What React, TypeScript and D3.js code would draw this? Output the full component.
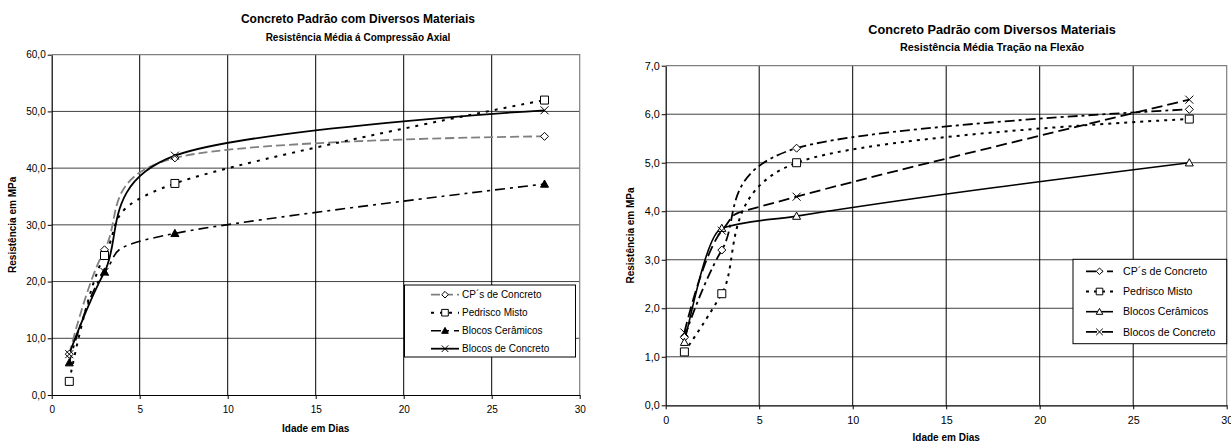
import React, { useEffect, useRef } from "react";
import * as d3 from "d3";

// idade (dias) dos ensaios
const days = [1, 3, 7, 28];
const seriesNames = ["CP´s de Concreto", "Pedrisco Misto", "Blocos Cerâmicos", "Blocos de Concreto"];

// compressão axial (MPa)
const compCP = [7.2, 25.6, 41.8, 45.6];
const compPedrisco = [2.4, 24.6, 37.3, 52.0];
const compCeramicos = [5.7, 21.7, 28.5, 37.2];
const compBlocos = [7.2, 21.7, 42.2, 50.2];

// tração na flexão (MPa)
const flexCP = [1.4, 3.2, 5.3, 6.1];
const flexPedrisco = [1.1, 2.3, 5.0, 5.9];
const flexCeramicos = [1.3, 3.65, 3.9, 5.0];
const flexBlocos = [1.5, 3.6, 4.3, 6.3];

const xTicks = [0, 5, 10, 15, 20, 25, 30];
const compTicks = [0, 10, 20, 30, 40, 50, 60];
const flexTicks = [0, 1, 2, 3, 4, 5, 6, 7];

const FONT = "'Liberation Sans', Arial, sans-serif";

type SeriesStyle = { color: string; dash: string; width: number; marker: string; fill: string; curve?: any };

const compStyles: SeriesStyle[] = [
  { color: "#808080", dash: "9,4", width: 1.8, marker: "diamond", fill: "#fff" },
  { color: "#000", dash: "3,6", width: 2, marker: "square", fill: "#fff" },
  { color: "#000", dash: "10,5,3,5", width: 1.6, marker: "triangle", fill: "#000" },
  { color: "#000", dash: "none", width: 1.8, marker: "cross", fill: "none" }
];

const flexStyles: SeriesStyle[] = [
  { color: "#000", dash: "10,4,3,4", width: 1.8, marker: "diamond", fill: "#fff" },
  { color: "#000", dash: "3,5", width: 2, marker: "square", fill: "#fff" },
  { color: "#000", dash: "none", width: 1.6, marker: "triangle", fill: "#fff", curve: d3.curveMonotoneX },
  { color: "#000", dash: "11,5", width: 1.8, marker: "cross", fill: "none" }
];

const fmt = (d: number) => d3.format(".1f")(d).replace(".", ",");

function marker(g: any, kind: string, cx: number, cy: number, r: number, fill: string) {
  let p = "";
  if (kind === "diamond") p = `M${cx},${cy - r}L${cx + r},${cy}L${cx},${cy + r}L${cx - r},${cy}Z`;
  if (kind === "square") p = `M${cx - r},${cy - r}H${cx + r}V${cy + r}H${cx - r}Z`;
  if (kind === "triangle") p = `M${cx},${cy - r}L${cx + r},${cy + r * 0.8}L${cx - r},${cy + r * 0.8}Z`;
  if (kind === "cross") p = `M${cx - r},${cy - r}L${cx + r},${cy + r}M${cx + r},${cy - r}L${cx - r},${cy + r}`;
  g.append("path").attr("d", p).attr("fill", fill).attr("stroke", "#000").attr("stroke-width", 1);
}

function drawChart(svg: any, cfg: any) {
  const x = d3.scaleLinear().domain([0, 30]).range([cfg.left, cfg.right]);
  const y = d3.scaleLinear().domain([0, cfg.yTicks[cfg.yTicks.length - 1]]).range([cfg.bottom, cfg.top]);
  const g = svg.append("g").attr("font-family", FONT);

  g.append("text").attr("x", cfg.titleX).attr("y", cfg.titleY).attr("text-anchor", "middle")
    .attr("font-weight", "bold").attr("font-size", cfg.titleSize).text("Concreto Padrão com Diversos Materiais");
  g.append("text").attr("x", cfg.titleX).attr("y", cfg.titleY + cfg.subGap).attr("text-anchor", "middle")
    .attr("font-weight", "bold").attr("font-size", cfg.subSize).text(cfg.subtitle);

  // grade
  g.append("g").selectAll("line").data(cfg.yTicks.slice(1, -1)).join("line")
    .attr("x1", cfg.left).attr("x2", cfg.right).attr("y1", (d: number) => y(d)).attr("y2", (d: number) => y(d))
    .attr("stroke", "#404040").attr("stroke-width", 1);
  g.append("g").selectAll("line").data(xTicks.slice(1, -1)).join("line")
    .attr("y1", cfg.top).attr("y2", cfg.bottom).attr("x1", (d: number) => x(d)).attr("x2", (d: number) => x(d))
    .attr("stroke", "#000").attr("stroke-width", 1);
  g.append("path").attr("d", `M${cfg.left},${cfg.top}H${cfg.right}V${cfg.bottom}`)
    .attr("fill", "none").attr("stroke", "#808080").attr("stroke-width", 1.2);

  const yAxis = g.append("g").attr("transform", `translate(${cfg.left},0)`)
    .call(d3.axisLeft(y).tickValues(cfg.yTicks).tickFormat(fmt).tickSizeInner(4).tickSizeOuter(0).tickPadding(2));
  const xAxis = g.append("g").attr("transform", `translate(0,${cfg.bottom})`)
    .call(d3.axisBottom(x).tickValues(xTicks).tickFormat(d3.format("d")).tickSizeInner(4).tickSizeOuter(0).tickPadding(cfg.xPad));
  [yAxis, xAxis].forEach((a) => {
    a.selectAll("text").attr("font-family", FONT).attr("font-size", cfg.tickSize).attr("fill", "#000");
    a.select(".domain").attr("stroke", "#000").attr("stroke-width", 1.2);
    a.selectAll(".tick line").attr("stroke", "#000");
  });

  g.append("text").attr("x", (cfg.left + cfg.right) / 2).attr("y", cfg.xLabelY).attr("text-anchor", "middle")
    .attr("font-weight", "bold").attr("font-size", cfg.axisSize).text("Idade em Dias");
  g.append("text").attr("transform", `translate(${cfg.yLabelX},${(cfg.top + cfg.bottom) / 2}) rotate(-90)`)
    .attr("text-anchor", "middle").attr("font-weight", "bold").attr("font-size", cfg.axisSize).text("Resistência em MPa");

  cfg.series.forEach((vals: number[], i: number) => {
    const s = cfg.styles[i];
    const line = d3.line<number>().x((_, j) => x(days[j])).y((d) => y(d))
      .curve(s.curve || d3.curveCardinal.tension(0));
    g.append("path").attr("d", line(vals)).attr("fill", "none").attr("stroke", s.color)
      .attr("stroke-width", s.width).attr("stroke-dasharray", s.dash);
  });
  cfg.series.forEach((vals: number[], i: number) => {
    const s = cfg.styles[i];
    vals.forEach((v, j) => marker(g, s.marker, x(days[j]), y(v), 4, s.fill));
  });

  // legenda
  const L = cfg.legend;
  g.append("rect").attr("x", L.x).attr("y", L.y).attr("width", L.w).attr("height", L.h)
    .attr("fill", "#fff").attr("stroke", "#000").attr("stroke-width", 1);
  seriesNames.forEach((name, i) => {
    const s = cfg.styles[i];
    const ly = L.y + L.first + i * L.step;
    g.append("line").attr("x1", L.lx1).attr("x2", L.lx2).attr("y1", ly).attr("y2", ly)
      .attr("stroke", s.color).attr("stroke-width", s.width).attr("stroke-dasharray", s.dash);
    marker(g, s.marker, (L.lx1 + L.lx2) / 2, ly, 3.3, s.fill);
    g.append("text").attr("x", L.tx).attr("y", ly).attr("dy", "0.35em")
      .attr("font-size", L.size).text(name);
  });
}

export default function App() {
  const ref = useRef<SVGSVGElement>(null);

  useEffect(() => {
    if (!ref.current) return;
    const svg = d3.select(ref.current);
    svg.selectAll("*").remove();

    drawChart(svg, {
      left: 51.7, right: 579.7, top: 54.7, bottom: 395,
      yTicks: compTicks, series: [compCP, compPedrisco, compCeramicos, compBlocos], styles: compStyles,
      titleX: 358, titleY: 23, subGap: 17.5, titleSize: 12, subSize: 10,
      subtitle: "Resistência Média á Compressão Axial",
      tickSize: 10, xPad: 7, axisSize: 10, xLabelY: 432, yLabelX: 16,
      legend: { x: 404.5, y: 285, w: 171, h: 72, first: 9.7, step: 18, lx1: 431, lx2: 459, tx: 462, size: 10 }
    });

    drawChart(svg, {
      left: 665.7, right: 1226.7, top: 65.7, bottom: 405.3,
      yTicks: flexTicks, series: [flexCP, flexPedrisco, flexCeramicos, flexBlocos], styles: flexStyles,
      titleX: 992, titleY: 33.5, subGap: 17.5, titleSize: 12.7, subSize: 10.8,
      subtitle: "Resistência Média Tração na Flexão",
      tickSize: 10.8, xPad: 7, axisSize: 10, xLabelY: 440.5, yLabelX: 634,
      legend: { x: 1073, y: 259.3, w: 153.7, h: 84.4, first: 12, step: 20.2, lx1: 1086, lx2: 1113, tx: 1123, size: 10.6 }
    });
  }, []);

  return (
    <svg ref={ref} width={1231} height={442}
      style={{ position: "absolute", left: 0, top: 0, background: "#fff" }} />
  );
}
